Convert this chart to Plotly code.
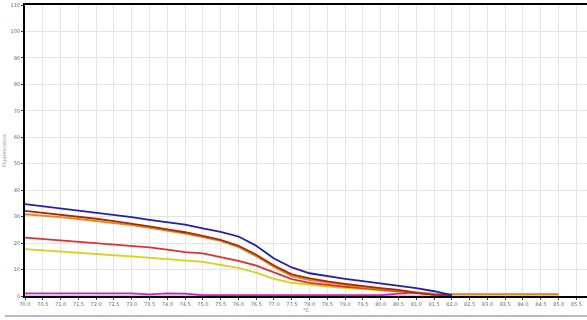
import plotly.graph_objects as go

temps = [70.0, 70.5, 71.0, 71.5, 72.0, 72.5, 73.0, 73.5, 74.0, 74.5, 75.0, 75.5,
         76.0, 76.5, 77.0, 77.5, 78.0, 78.5, 79.0, 79.5, 80.0, 80.5, 81.0, 81.5,
         82.0, 82.5, 83.0, 83.5, 84.0, 84.5, 85.0]

blue = [34.7, 33.9, 33.2, 32.3, 31.6, 30.6, 29.8, 28.8, 27.9, 27.0, 25.6, 24.2,
        22.5, 19.0, 14.2, 10.8, 8.6, 7.5, 6.5, 5.6, 4.8, 3.9, 3.0, 1.8,
        0.3, None, None, None, None, None, None]
brown = [32.2, 31.5, 30.8, 30.0, 29.2, 28.3, 27.4, 26.3, 25.2, 24.1, 22.7, 21.2,
         19.0, 15.6, 11.5, 8.2, 6.7, 5.5, 4.6, 3.7, 3.0, 2.3, 1.2, 0.5,
         0.4, None, None, None, None, None, None]
orange = [30.9, 30.4, 29.8, 29.1, 28.4, 27.6, 26.8, 25.8, 24.8, 23.6, 22.3, 20.8,
          18.5, 15.0, 11.0, 7.5, 6.0, 5.0, 4.2, 3.4, 2.7, 2.0, 1.3, 0.8,
          0.7, 0.7, 0.7, 0.7, 0.7, 0.7, 0.7]
red = [22.1, 21.6, 21.1, 20.6, 20.1, 19.5, 18.9, 18.4, 17.5, 16.6, 16.1, 14.8,
       13.3, 11.5, 9.0, 6.4, 5.0, 4.2, 3.5, 3.0, 2.4, 1.9, 1.2, 0.5,
       0.3, None, None, None, None, None, None]
yellow = [17.7, 17.2, 16.8, 16.2, 15.8, 15.4, 15.0, 14.5, 14.0, 13.5, 12.9, 11.8,
          10.6, 8.8, 6.5, 5.0, 4.2, 3.6, 3.1, 2.6, 2.2, 1.6, 1.1, 0.7,
          0.6, 0.6, 0.6, 0.6, 0.6, 0.6, 0.6]
magenta = [1.0, 1.0, 1.0, 1.0, 1.0, 1.0, 1.0, 0.6, 1.0, 0.9, 0.3, 0.3,
           0.3, 0.3, 0.3, 0.3, 0.3, 0.3, 0.3, 0.3, 0.3, 0.9, 1.2, 0.5,
           0.2, None, None, None, None, None, None]
pink = [0.0] * len(temps)

x_ticks = [70 + 0.5 * i for i in range(32)]
y_ticks = list(range(0, 111, 10))

fig = go.Figure()
series = [
    ("pink", pink, "#ffa8ff", 2.5),
    ("magenta", magenta, "#d020c8", 1.8),
    ("yellow", yellow, "#d8d020", 1.8),
    ("red", red, "#e03030", 1.8),
    ("orange", orange, "#e08818", 1.8),
    ("brown", brown, "#a82808", 1.8),
    ("blue", blue, "#2020b0", 1.8),
]
for name, vals, col, w in series:
    fig.add_trace(go.Scatter(x=temps, y=vals, mode="lines", name=name,
                             line=dict(color=col, width=w), connectgaps=False,
                             showlegend=False))

fig.update_layout(
    width=587, height=320,
    margin=dict(l=25, r=0, t=5, b=24),
    paper_bgcolor="white", plot_bgcolor="white",
    font=dict(family="DejaVu Sans", size=5, color="#666"),
    xaxis=dict(range=[70, 85.8], tickvals=x_ticks,
               ticktext=[f"{v:.1f}" for v in x_ticks],
               showgrid=True, gridcolor="#e4e4e4", gridwidth=1,
               showline=True, linecolor="black", linewidth=2, mirror=True,
               ticks="outside", ticklen=2, tickcolor="#444",
               zeroline=False, automargin=False,
               title=dict(text="°C", standoff=2, font=dict(size=5, color="#666"))),
    yaxis=dict(range=[0, 110], tickvals=y_ticks,
               showgrid=True, gridcolor="#e4e4e4", gridwidth=1,
               showline=True, linecolor="black", linewidth=2,
               ticks="outside", ticklen=2, tickcolor="#444",
               zeroline=False, automargin=False,
               title=dict(text="Fluorescence", standoff=4, font=dict(size=5, color="#888"))),
)
fig.add_shape(type="line", xref="paper", yref="paper",
              x0=-0.036, x1=1.0, y0=-0.069, y1=-0.069,
              line=dict(color="#bbbbbb", width=2))

fig.write_html("out.html", config={"displayModeBar": False},
               post_script="document.body.style.margin='0';document.body.style.overflow='hidden';")
